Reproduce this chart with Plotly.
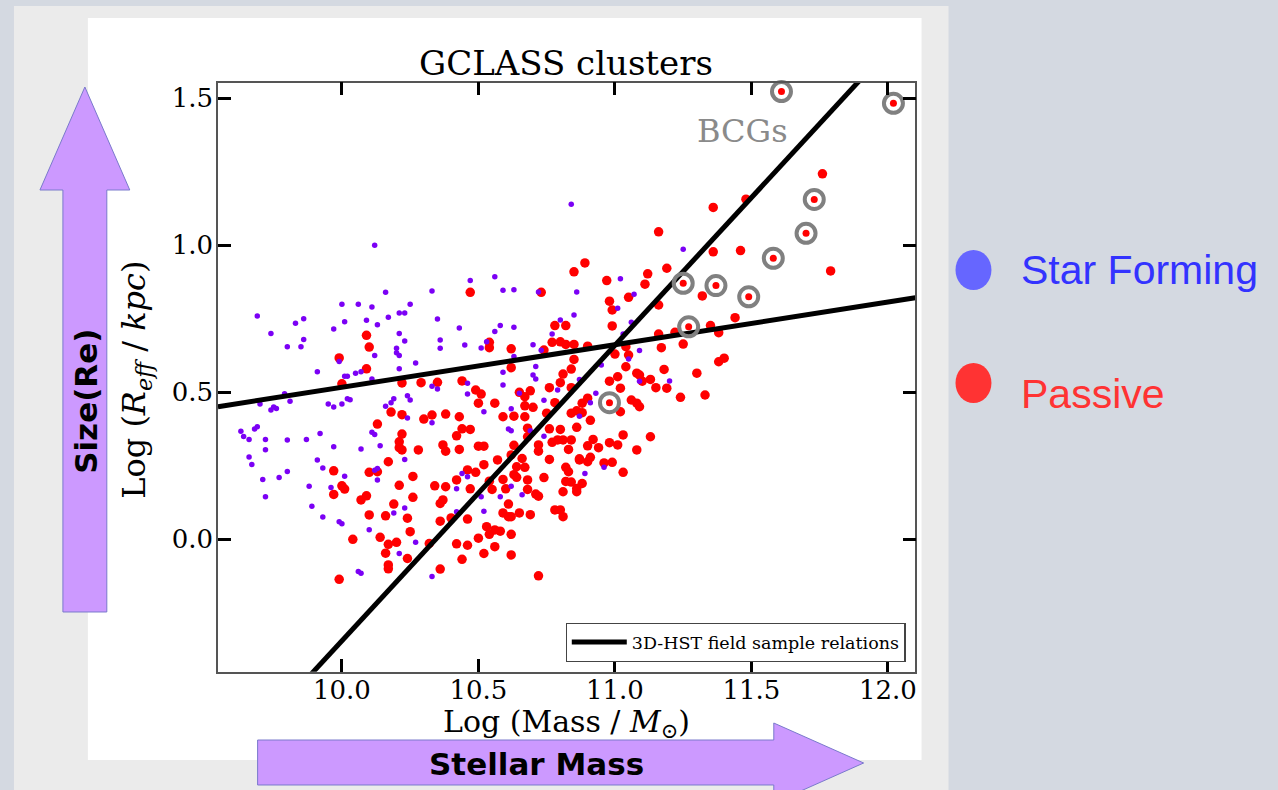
import numpy as np
import plotly.graph_objects as go

W, H = 1278, 790

# ---------------- data: log stellar mass vs log effective radius ----------------
# star-forming cluster members, low-mass side
sf_mass_a = [10.12, 10.16, 10.00, 10.06, 10.11, 10.25, 10.21, 10.23, 9.69, 9.86,
             9.83, 10.01, 10.09, 10.17, 10.13, 9.97, 9.74, 10.21, 9.86, 10.23,
             9.80, 9.85, 10.20, 10.20, 10.21, 10.12, 9.99, 10.27, 10.21, 9.91,
             10.05, 10.07, 10.01, 10.02, 10.11, 9.79, 9.81, 9.70, 9.74, 9.75,
             9.76, 9.95, 9.97, 10.00, 10.02, 10.03, 10.16, 10.18, 10.19, 10.24,
             10.25, 10.24, 9.63, 9.64, 9.66, 9.68, 9.69, 9.72, 9.72, 9.66,
             9.67, 9.80, 9.87, 9.92, 9.97, 10.11, 10.12, 10.07, 10.14, 10.23,
             9.91, 9.93, 9.71, 9.77, 9.80, 9.72, 9.88, 9.96, 10.01, 10.12,
             10.13, 10.13, 9.89, 9.93, 9.99, 10.00, 10.10, 10.19, 10.23, 10.21,
             10.06, 10.07, 10.27]
sf_size_a = [1.00, 0.84, 0.80, 0.80, 0.79, 0.80, 0.77, 0.77, 0.76, 0.75,
             0.735, 0.74, 0.745, 0.755, 0.73, 0.715, 0.70, 0.70, 0.68, 0.675,
             0.655, 0.655, 0.65, 0.635, 0.625, 0.625, 0.605, 0.60, 0.58, 0.57,
             0.565, 0.57, 0.555, 0.555, 0.545, 0.495, 0.47, 0.46, 0.44, 0.45,
             0.445, 0.46, 0.45, 0.46, 0.478, 0.475, 0.453, 0.465, 0.478, 0.488,
             0.474, 0.413, 0.368, 0.35, 0.34, 0.375, 0.383, 0.34, 0.305, 0.28,
             0.255, 0.338, 0.34, 0.36, 0.315, 0.364, 0.357, 0.307, 0.318, 0.272,
             0.27, 0.243, 0.204, 0.21, 0.231, 0.145, 0.181, 0.176, 0.215, 0.235,
             0.241, 0.202, 0.113, 0.076, 0.06, 0.053, 0.033, 0.09, 0.107, -0.048,
             -0.109, -0.115, -0.01]

# star-forming cluster members, high-mass side
sf_mass_b = [10.47, 10.56, 10.33, 10.59, 10.63, 10.72, 10.86, 10.35, 10.85, 10.43,
             10.58, 10.63, 10.80, 10.56, 10.77, 10.36, 10.36, 10.45, 10.51, 10.53,
             10.70, 10.73, 10.63, 10.71, 10.59, 10.70, 10.71, 10.87, 10.46, 10.59,
             10.33, 10.35, 10.46, 10.65, 10.79, 10.74, 10.91, 10.33, 10.52, 10.62,
             10.61, 10.62, 10.69, 10.74, 10.87, 10.96, 10.89, 10.44, 10.46, 10.42,
             10.62, 10.58, 10.66, 10.52, 10.42, 10.33, 10.51,
             10.84, 11.25, 11.02, 11.07, 11.01, 11.06, 11.03, 11.09, 11.05, 11.09,
             11.20, 10.95, 10.93]
sf_size_b = [0.88, 0.893, 0.845, 0.847, 0.849, 0.841, 0.841, 0.749, 0.763, 0.719,
             0.727, 0.721, 0.746, 0.707, 0.698, 0.678, 0.65, 0.661, 0.651, 0.672,
             0.662, 0.643, 0.622, 0.588, 0.568, 0.559, 0.545, 0.544, 0.531, 0.525,
             0.521, 0.511, 0.494, 0.497, 0.508, 0.473, 0.465, 0.397, 0.434, 0.444,
             0.375, 0.369, 0.369, 0.351, 0.419, 0.245, 0.224, 0.224, 0.213, 0.172,
             0.181, 0.145, 0.152, 0.096, 0.094, -0.126, 0.145,
             1.14, 0.987, 0.886, 0.834, 0.786, 0.738, 0.698, 0.642, 0.613, 0.538,
             0.539, 0.593, 0.497]

# passive cluster members, log M < 10.3
pa_mass_a = [10.09, 10.10, 9.99, 10.09, 10.00, 10.22, 10.18, 10.22, 10.13, 10.22,
             10.21, 10.21, 10.22, 10.17, 9.97, 10.10, 10.13, 10.26, 10.21, 10.00,
             10.01, 9.97, 10.09, 10.07, 10.26, 10.19, 10.10, 10.16, 10.24, 10.25,
             10.04, 10.14, 10.20, 10.17, 10.16, 10.24, 10.17, 10.17, 9.99]
pa_size_a = [0.694, 0.654, 0.617, 0.58, 0.529, 0.532, 0.433, 0.424, 0.392, 0.358,
             0.332, 0.312, 0.304, 0.264, 0.233, 0.228, 0.23, 0.214, 0.184, 0.182,
             0.171, 0.153, 0.148, 0.134, 0.143, 0.12, 0.083, 0.08, 0.072, 0.026,
             0.0, 0.007, -0.01, -0.017, -0.047, -0.065, -0.087, -0.10, -0.136]

# passive cluster members, 10.3 < log M < 11
pa_mass_b = [10.89, 10.85, 10.97, 10.47, 10.73, 10.98, 10.99, 10.78, 10.82, 10.99,
             10.54, 10.54, 10.62, 10.74, 10.77, 10.80, 10.82, 10.85, 10.90, 10.62,
             10.81, 10.84, 10.29, 10.35, 10.44, 10.49, 10.51, 10.50, 10.56, 10.65,
             10.67, 10.69, 10.76, 10.80, 10.84, 10.88, 10.67, 10.70, 10.78, 10.75,
             10.59, 10.63, 10.67, 10.84, 10.86, 10.88, 10.91, 10.38, 10.33, 10.30,
             10.43, 10.44, 10.47, 10.42, 10.68, 10.68, 10.76, 10.80, 10.77, 10.79,
             10.81, 10.84, 10.86, 10.92, 10.90, 10.94, 10.28, 10.37, 10.38, 10.43,
             10.50, 10.52, 10.63, 10.72, 10.72, 10.57, 10.62, 10.66, 10.76, 10.83,
             10.87, 10.91, 10.52, 10.46, 10.49, 10.64, 10.67, 10.82, 10.83, 10.99,
             10.59, 10.63, 10.64, 10.68, 10.74, 10.82, 10.84, 10.88, 10.34, 10.38,
             10.42, 10.47, 10.54, 10.55, 10.60, 10.68, 10.81, 10.86, 10.86, 10.71,
             10.72, 10.36, 10.37, 10.61, 10.46, 10.36, 10.40, 10.59, 10.61, 10.62,
             10.65, 10.69, 10.78, 10.80, 10.81, 10.53, 10.54, 10.56, 10.58, 10.50,
             10.62, 10.32, 10.42, 10.46, 10.52, 10.56, 10.62, 10.44, 10.36, 10.72]
pa_size_b = [0.94, 0.91, 0.88, 0.84, 0.84, 0.81, 0.78, 0.727, 0.727, 0.726,
             0.67, 0.652, 0.648, 0.644, 0.67, 0.672, 0.663, 0.663, 0.657, 0.584,
             0.562, 0.579, 0.533, 0.534, 0.539, 0.508, 0.494, 0.463, 0.463, 0.50,
             0.485, 0.505, 0.516, 0.533, 0.516, 0.463, 0.454, 0.449, 0.465, 0.429,
             0.417, 0.419, 0.417, 0.429, 0.437, 0.431, 0.405, 0.426, 0.423, 0.409,
             0.417, 0.376, 0.374, 0.352, 0.378, 0.349, 0.376, 0.374, 0.33, 0.338,
             0.338, 0.338, 0.381, 0.34, 0.318, 0.312, 0.304, 0.321, 0.30, 0.306,
             0.317, 0.317, 0.32, 0.321, 0.30, 0.27, 0.287, 0.275, 0.272, 0.306,
             0.274, 0.279, 0.254, 0.236, 0.228, 0.247, 0.245, 0.245, 0.23, 0.262,
             0.204, 0.22, 0.211, 0.202, 0.21, 0.197, 0.195, 0.19, 0.182, 0.179,
             0.202, 0.172, 0.198, 0.17, 0.172, 0.17, 0.162, 0.173, 0.162, 0.154,
             0.147, 0.122, 0.134, 0.12, 0.069, 0.062, 0.073, 0.09, 0.077, 0.077,
             0.09, 0.084, 0.10, 0.10, 0.077, 0.043, 0.017, 0.032, 0.028, 0.004,
             0.017, -0.014, -0.015, -0.02, -0.048, -0.025, -0.053, -0.068, -0.101, -0.124]

# passive cluster members, log M > 11
pa_mass_c = [11.76, 11.48, 11.36, 11.16, 11.36, 11.46, 11.19, 11.12, 11.11, 11.79,
             11.05, 11.32, 11.16, 11.44, 11.16, 11.22, 11.35, 11.38, 11.25, 11.17,
             11.38, 11.40, 11.04, 11.08, 11.09, 11.18, 11.13, 11.10, 11.30, 11.15,
             11.19, 11.24, 11.33, 11.06, 11.08, 11.09, 11.02, 11.03, 11.13, 11.08,
             11.01, 11.04, 11.05, 11.01, 11.02,
             11.03, 10.96, 10.98, 10.87, 10.90, 11.00, 10.85, 10.98, 10.90]
pa_size_c = [1.243, 1.157, 1.129, 1.046, 0.978, 0.982, 0.922, 0.903, 0.868, 0.913,
             0.823, 0.828, 0.797, 0.754, 0.698, 0.704, 0.727, 0.703, 0.664, 0.652,
             0.604, 0.616, 0.587, 0.565, 0.559, 0.578, 0.544, 0.538, 0.565, 0.516,
             0.514, 0.483, 0.491, 0.474, 0.463, 0.451, 0.434, 0.355, 0.349, 0.304,
             0.321, 0.655, 0.627, 0.553, 0.514,
             0.228, 0.26, 0.329, 0.27, 0.264, 0.63, 0.612, 0.538, 0.48]

# brightest cluster galaxies
bcg_mass = [11.61, 12.02, 11.73, 11.70, 11.58, 11.37, 11.49, 11.25, 11.27, 10.98]
bcg_size = [1.523, 1.483, 1.156, 1.041, 0.956, 0.863, 0.825, 0.871, 0.723, 0.465]

# 3D-HST field relations: log Re = zero-point + slope * (log M - 11)
rel_zero = [0.66, 0.662]
rel_slope = [1.005, 0.145]

x_ticks = [10.0, 10.5, 11.0, 11.5, 12.0]
y_ticks = [0.0, 0.5, 1.0, 1.5]
x_range = [9.546, 12.10]
y_range = [-0.450, 1.553]

# ---------------- layout helpers (pixel -> paper fraction) ----------------
def fx(p):
    return p / W


def fy(p):
    return 1 - p / H


SERIF = "DejaVu Serif"
PURPLE = "#7b00f5"
RED = "#ff0000"

fig = go.Figure()

fig.add_trace(go.Scatter(
    x=pa_mass_a + pa_mass_b + pa_mass_c, y=pa_size_a + pa_size_b + pa_size_c,
    mode="markers", marker=dict(size=9.5, color=RED, line=dict(width=0)),
    showlegend=False, hoverinfo="skip"))
fig.add_trace(go.Scatter(
    x=sf_mass_a + sf_mass_b, y=sf_size_a + sf_size_b,
    mode="markers", marker=dict(size=5.5, color=PURPLE, line=dict(width=0)),
    showlegend=False, hoverinfo="skip"))

xs = np.array(x_range)
for i, (z, s) in enumerate(zip(rel_zero, rel_slope)):
    fig.add_trace(go.Scatter(
        x=xs, y=z + s * (xs - 11.0), mode="lines",
        line=dict(color="black", width=5),
        name="3D-HST field sample relations", showlegend=(i == 0),
        hoverinfo="skip"))

fig.add_trace(go.Scatter(
    x=bcg_mass, y=bcg_size, mode="markers",
    marker=dict(size=19, symbol="circle-open", color="#808080", line=dict(width=4, color="#808080")),
    showlegend=False, hoverinfo="skip", cliponaxis=False))
fig.add_trace(go.Scatter(
    x=bcg_mass, y=bcg_size, mode="markers",
    marker=dict(size=7, color=RED, line=dict(width=0)),
    showlegend=False, hoverinfo="skip", cliponaxis=False))

# ---------------- slide background and panels ----------------
shapes = [
    dict(type="rect", xref="paper", yref="paper", x0=fx(14), x1=fx(950), y0=fy(790), y1=fy(6),
         fillcolor="#ebebeb", line=dict(width=0), layer="below"),
    dict(type="rect", xref="paper", yref="paper", x0=fx(88), x1=fx(923), y0=fy(760), y1=fy(18),
         fillcolor="white", line=dict(width=0), layer="below"),
]

def poly(points):
    return "M " + " L ".join(f"{fx(a):.5f},{fy(b):.5f}" for a, b in points) + " Z"

arrow_style = dict(type="path", xref="paper", yref="paper", fillcolor="#cc99ff",
                   line=dict(color="#7a7acc", width=1), layer="above")
shapes.append(dict(path=poly([(85, 87), (130, 190), (107, 190), (107, 612),
                              (63, 612), (63, 190), (40, 190)]), **arrow_style))
shapes.append(dict(path=poly([(258, 740), (775, 740), (775, 723), (865, 763),
                              (775, 803), (775, 785), (258, 785)]), **arrow_style))

# class markers next to the plot
shapes.append(dict(type="circle", xref="paper", yref="paper", x0=fx(957), x1=fx(993),
                   y0=fy(290), y1=fy(250), fillcolor="#6666ff", line=dict(width=0)))
shapes.append(dict(type="circle", xref="paper", yref="paper", x0=fx(957), x1=fx(993),
                   y0=fy(403), y1=fy(363), fillcolor="#ff3333", line=dict(width=0)))

annotations = [
    dict(text="GCLASS clusters", x=fx(567), y=fy(63), font=dict(family=SERIF, size=34, color="black")),
    dict(text="Log (Mass / <i>M</i><sub>⊙</sub>)", x=fx(567), y=fy(723),
         font=dict(family=SERIF, size=30, color="black")),
    dict(text="Log (<i>R</i><sub><i>eff</i></sub> / <i>kpc</i>)", x=fx(136), y=fy(380), textangle=-90,
         font=dict(family=SERIF, size=32, color="black")),
    dict(text="BCGs", x=fx(744), y=fy(131), font=dict(family=SERIF, size=32, color="#8a8a8a")),
    dict(text="<b>Size(Re)</b>", x=fx(86), y=fy(401), textangle=-90,
         font=dict(family="DejaVu Sans", size=31, color="black")),
    dict(text="<b>Stellar Mass</b>", x=fx(537), y=fy(764),
         font=dict(family="DejaVu Sans", size=31, color="black")),
    dict(text="Star Forming", x=fx(1021), y=fy(270), xanchor="left",
         font=dict(family="Liberation Sans", size=41, color="#3333ff")),
    dict(text="Passive", x=fx(1021), y=fy(394), xanchor="left",
         font=dict(family="Liberation Sans", size=41, color="#ff3333")),
]
for a in annotations:
    a.setdefault("xanchor", "center")
    a.update(xref="paper", yref="paper", yanchor="middle", showarrow=False)

axis_common = dict(showline=True, linecolor="#555555", linewidth=1.5, mirror="ticks",
                   ticks="inside", ticklen=13, tickwidth=3, tickcolor="black",
                   showgrid=False, zeroline=False,
                   tickfont=dict(family=SERIF, size=26, color="black"))

fig.update_layout(
    width=W, height=H, autosize=False,
    margin=dict(l=0, r=0, t=0, b=0),
    paper_bgcolor="#d4d9e1", plot_bgcolor="white",
    xaxis=dict(domain=[fx(218.3), fx(916.7)], range=x_range, ticklabelstandoff=-6,
               tickvals=x_ticks, ticktext=[f"{v:.1f}" for v in x_ticks], **axis_common),
    yaxis=dict(domain=[fy(671.7), fy(82.7)], range=y_range, ticklabelstandoff=-2,
               tickvals=y_ticks, ticktext=[f"{v:.1f}" for v in y_ticks], **axis_common),
    legend=dict(x=fx(907), y=fy(662), xanchor="right", yanchor="bottom",
                bgcolor="white", bordercolor="#444444", borderwidth=1.2, itemwidth=55,
                font=dict(family=SERIF, size=17.5, color="black")),
    shapes=shapes, annotations=annotations,
)

fig.write_html("out.html")
